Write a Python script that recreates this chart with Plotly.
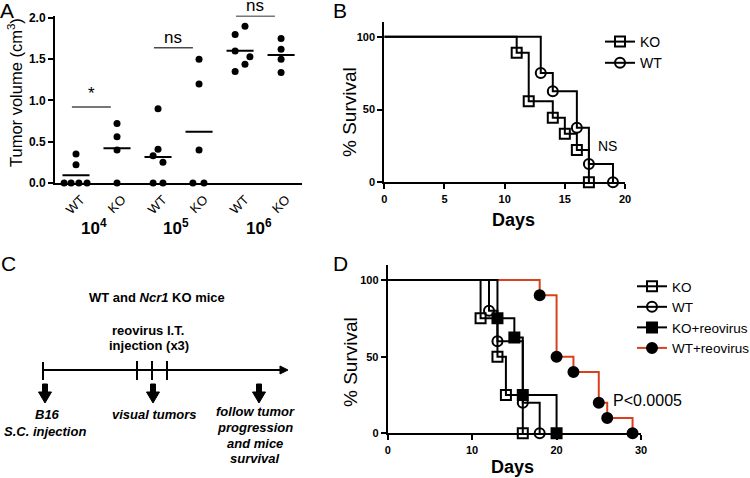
import plotly.graph_objects as go
import numpy as np

W, H = 750, 478
def X(px): return px / W
def Y(py): return 1 - py / H

FONT = "Liberation Sans, Arial, sans-serif"
RED = "#d9411e"

# ---------------- Panel A data ----------------
a_tick_labels = ["WT", "KO", "WT", "KO", "WT", "KO"]
a_dose_labels = ["10<sup>4</sup>", "10<sup>5</sup>", "10<sup>6</sup>"]
wt_1e4 = [0, 0, 0, 0, 0.22, 0.35]
ko_1e4 = [0.72, 0.56, 0.40, 0]
wt_1e5 = [0.90, 0.41, 0.33, 0.25, 0, 0]
ko_1e5 = [1.50, 1.20, 0.40, 0, 0]
wt_1e6 = [1.90, 1.80, 1.60, 1.53, 1.44, 1.35]
ko_1e6 = [1.75, 1.62, 1.50, 1.34]
a_groups = [wt_1e4, ko_1e4, wt_1e5, ko_1e5, wt_1e6, ko_1e6]
a_sig_labels = ["*", "ns", "ns"]
a_sig_heights = [0.92, 1.64, 2.025]

# horizontal scatter offsets (styling only)
a_jitter = [
    [-0.29, -0.12, 0.07, 0.27, 0, 0],
    [0, 0, 0, 0],
    [0, 0, -0.12, 0.12, -0.12, 0.12],
    [0, 0, 0, -0.15, 0.12],
    [0.12, -0.12, -0.12, 0.24, 0.12, -0.12],
    [0, 0, 0, 0],
]

# ---------------- Panel B data ----------------
b_ko_days = [11, 12, 14, 15, 16, 17]
b_ko_surv = [88.9, 55.6, 44.4, 33.3, 22.2, 0]
b_wt_days = [13, 14, 16, 17, 19]
b_wt_surv = [75, 62.5, 37.5, 12.5, 0]

# ---------------- Panel D data ----------------
d_ko_days = [11, 13, 14, 16]
d_ko_surv = [75, 50, 25, 0]
d_wt_days = [12, 13, 16, 18]
d_wt_surv = [80, 60, 20, 0]
d_kor_days = [13, 15, 16, 20]
d_kor_surv = [75, 62.5, 25, 0]
d_wtr_days = [18, 20, 22, 25, 26, 29]
d_wtr_surv = [90, 50, 40, 20, 10, 0]

fig = go.Figure()

# ---- Panel A traces ----
for i, (vals, jit) in enumerate(zip(a_groups, a_jitter)):
    fig.add_trace(go.Scatter(
        x=[i + j for j in jit], y=vals, mode="markers",
        marker=dict(size=7, color="black"), cliponaxis=False,
        xaxis="x", yaxis="y", showlegend=False))
    m = float(np.mean(vals))
    fig.add_trace(go.Scatter(
        x=[i - 0.33, i + 0.33], y=[m, m], mode="lines",
        line=dict(color="black", width=2), xaxis="x", yaxis="y",
        showlegend=False))

# ---- KM helper ----
def km(days, surv, name, sym, xa, ya, leg, color="black"):
    fig.add_trace(go.Scatter(
        x=[0] + days, y=[100] + surv, mode="lines",
        line=dict(shape="hv", color=color, width=2),
        xaxis=xa, yaxis=ya, showlegend=False))
    mk = dict(symbol=sym, size=10, color="black", line=dict(width=2, color="black"))
    fig.add_trace(go.Scatter(
        x=days, y=surv, mode="markers", marker=mk, cliponaxis=False,
        xaxis=xa, yaxis=ya, showlegend=False))
    return dict(name=name, mk=mk, color=color, xa=xa, ya=ya, leg=leg)

b_entries = [
    km(b_ko_days, b_ko_surv, "KO", "square-open", "x2", "y2", "legend"),
    km(b_wt_days, b_wt_surv, "WT", "circle-open", "x2", "y2", "legend"),
]
d_wtr = km(d_wtr_days, d_wtr_surv, "WT+reovirus", "circle", "x3", "y3", "legend2", RED)
d_entries = [
    km(d_ko_days, d_ko_surv, "KO", "square-open", "x3", "y3", "legend2"),
    km(d_wt_days, d_wt_surv, "WT", "circle-open", "x3", "y3", "legend2"),
    km(d_kor_days, d_kor_surv, "KO+reovirus", "square", "x3", "y3", "legend2"),
    d_wtr,
]
for e in b_entries + d_entries:
    fig.add_trace(go.Scatter(
        x=[None], y=[None], mode="lines+markers", name=e["name"],
        line=dict(color=e["color"], width=2), marker=e["mk"],
        xaxis=e["xa"], yaxis=e["ya"], legend=e["leg"]))

# ---- axes ----
base = dict(showline=True, linecolor="black", linewidth=2, showgrid=False,
            zeroline=False, ticks="outside", ticklen=5, tickwidth=2,
            tickcolor="black", tickfont=dict(family=FONT, size=11, color="black", weight="bold"))

fig.update_layout(
    width=W, height=H, margin=dict(l=0, r=0, t=0, b=0, autoexpand=False),
    paper_bgcolor="white", plot_bgcolor="white",
    font=dict(family=FONT, color="black"),
    xaxis=dict(base, domain=[X(55), X(302)], range=[-0.512, 5.51], anchor="y",
               tickvals=list(range(6)), ticktext=a_tick_labels, tickangle=-45, ticks="",
               ticklabelshift=5, ticklabelstandoff=2,
               tickfont=dict(family=FONT, size=13, color="black")),
    yaxis=dict(base, domain=[Y(183), Y(15.5)], range=[0, 2.03], anchor="x",
               tickvals=[0, 0.5, 1.0, 1.5, 2.0], tickformat=".1f",
               tickfont=dict(family=FONT, size=12, color="black", weight="bold")),
    xaxis2=dict(base, domain=[X(384.3), X(625)], range=[0, 20], anchor="y2",
                tickvals=[0, 5, 10, 15, 20]),
    yaxis2=dict(base, domain=[Y(182.3), Y(182.3 - 1.1 * 145.6)], range=[0, 110],
                anchor="x2", tickvals=[0, 50, 100]),
    xaxis3=dict(base, domain=[X(387.7), X(641)], range=[0, 30], anchor="y3",
                tickvals=[0, 10, 20, 30]),
    yaxis3=dict(base, domain=[Y(433.3), Y(433.3 - 1.1 * 153.3)], range=[0, 110],
                anchor="x3", tickvals=[0, 50, 100]),
    legend=dict(x=X(600), y=Y(26), xanchor="left", yanchor="top",
                font=dict(family=FONT, size=14), bgcolor="rgba(0,0,0,0)"),
    legend2=dict(x=X(632), y=Y(271), xanchor="left", yanchor="top",
                 font=dict(family=FONT, size=13.5), bgcolor="rgba(0,0,0,0)"),
)

ann = []
def txt(x, y, t, size, xref="paper", yref="paper", angle=0, **kw):
    ann.append(dict(x=x, y=y, xref=xref, yref=yref, text=t, showarrow=False,
                    textangle=angle, font=dict(family=FONT, size=size, color="black"),
                    xanchor=kw.pop("xanchor", "center"), yanchor=kw.pop("yanchor", "middle"), **kw))

# panel letters
txt(X(7), Y(11), "A", 21)
txt(X(340), Y(11), "B", 21)
txt(X(8), Y(263), "C", 21)
txt(X(340), Y(263), "D", 21)

# Panel A titles / labels
txt(X(15), Y(93), "Tumor volume (cm<sup>3</sup>)", 16.5, angle=-90)
for k, lab in enumerate(a_dose_labels):
    txt(2 * k + 0.45, Y(227), "<b>" + lab + "</b>", 17, xref="x")
shapes = []
for k, (lab, h) in enumerate(zip(a_sig_labels, a_sig_heights)):
    x0, x1 = 2 * k - 0.1, 2 * k + 0.85
    shapes.append(dict(type="line", xref="x", yref="y", x0=x0, x1=x1, y0=h, y1=h,
                       line=dict(color="#4a4a4a", width=1.5)))
    txt((x0 + x1) / 2, h, lab, 17, xref="x", yref="y",
        yshift=(14 if lab == "*" else 10))

# Panel B / D titles
txt(X(350), Y(112), "% Survival", 19, angle=-90)
txt(X(350), Y(362), "% Survival", 19, angle=-90)
txt(X(513), Y(220), "<b>Days</b>", 18)
txt(X(512), Y(467), "<b>Days</b>", 18)
txt(X(607), Y(146), "NS", 14)
txt(X(647), Y(400), "P&lt;0.0005", 16)

# Panel C
txt(X(157), Y(297), "<b>WT and <i>Ncr1</i> KO mice</b>", 13)
txt(X(148), Y(330), "<b>reovirus I.T.</b>", 13)
txt(X(149), Y(345), "<b>injection (x3)</b>", 13)
txt(X(47), Y(414), "<b><i>B16</i></b>", 13)
txt(X(45), Y(431), "<b><i>S.C. injection</i></b>", 13)
txt(X(154), Y(414), "<b><i>visual tumors</i></b>", 13)
for yy, t in zip([411, 427, 443, 458], ["follow tumor", "progression", "and mice", "survival"]):
    txt(X(255), Y(yy), "<b><i>" + t + "</i></b>", 13)

def pline(x0, y0, x1, y1, w=2):
    shapes.append(dict(type="line", xref="paper", yref="paper",
                       x0=X(x0), y0=Y(y0), x1=X(x1), y1=Y(y1),
                       line=dict(color="black", width=w)))

pline(43, 370, 283, 370)
pline(43, 362, 43, 380)
for tx in [137, 152, 167]:
    pline(tx, 361, tx, 380)

def ppath(pts):
    d = "M " + " L ".join(f"{X(a):.5f},{Y(b):.5f}" for a, b in pts) + " Z"
    shapes.append(dict(type="path", xref="paper", yref="paper", path=d,
                       fillcolor="black", line=dict(color="black", width=1)))

ppath([(280, 366), (288, 370), (280, 374)])
for cx in [45, 153, 259]:
    ppath([(cx - 2.5, 384), (cx + 2.5, 384), (cx + 2.5, 392), (cx + 6.5, 392),
           (cx, 403), (cx - 6.5, 392), (cx - 2.5, 392)])

fig.update_layout(annotations=ann, shapes=shapes)
fig.write_html("out.html",
               config={"displayModeBar": False},
               post_script="document.body.style.margin='0px';"
                           "document.documentElement.style.overflow='hidden';")
